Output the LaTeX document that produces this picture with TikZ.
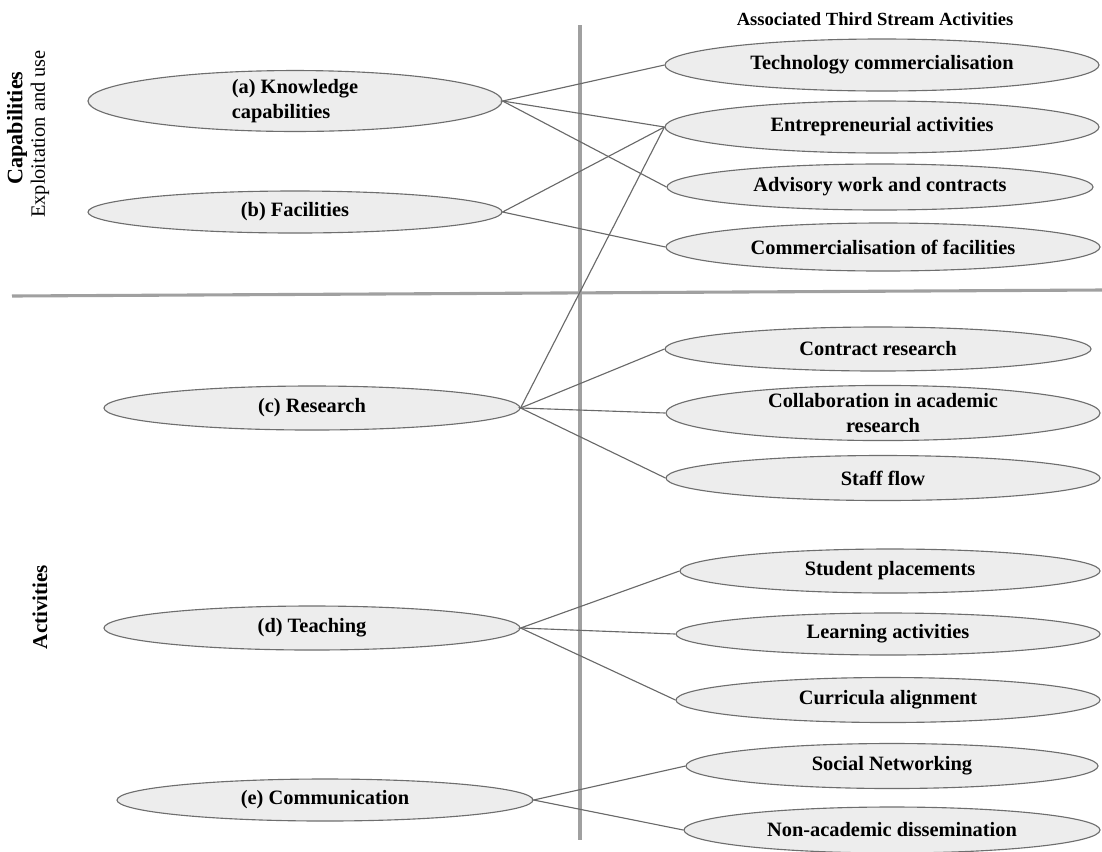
\documentclass[tikz,border=0pt]{standalone}
\usepackage{fontspec}
\setmainfont{Liberation Serif}
\usetikzlibrary{shapes.geometric}

\definecolor{ovalfill}{RGB}{237,237,237}
\definecolor{ovaldraw}{RGB}{110,110,110}
\definecolor{linkgray}{RGB}{105,105,105}
\definecolor{dividergray}{RGB}{160,160,160}

\tikzset{
  oval/.style 2 args={ellipse, draw=ovaldraw, fill=ovalfill, line width=0.8pt, inner sep=0pt,
    minimum width=#1*0.025cm, minimum height=#2*0.025cm,
    font=\fontsize{14.5}{17.5}\selectfont\bfseries},
  link/.style={draw=linkgray, line width=0.8pt},
  divider/.style={draw=dividergray, line width=2.2pt}
}

\begin{document}
\begin{tikzpicture}[x=0.025cm, y=-0.025cm]
  \useasboundingbox (0,0) rectangle (1102,851);
  \draw[divider] (12,296) -- (1102,290);
  \draw[divider] (580,25) -- (580,840);

  \node[font=\fontsize{13.2}{16}\selectfont\bfseries] (head) at (875,19) {Associated Third Stream Activities};
  \node[rotate=90, font=\fontsize{15.7}{18}\selectfont\bfseries] (capab) at (17,128) {Capabilities};
  \node[rotate=90, font=\fontsize{14.5}{17}\selectfont] (exploit) at (40,134) {Exploitation and use};
  \node[rotate=90, font=\fontsize{15}{18}\selectfont\bfseries] (activ) at (40,607) {Activities};

  \node[oval={414}{58}, align=left] (know) at (295,101) {(a) Knowledge\\capabilities};
  \node[oval={414}{42}] (facil) at (295,212) {(b) Facilities};
  \node[oval={416}{44}] (research) at (312,408) {(c) Research};
  \node[oval={416}{44}] (teach) at (312,628) {(d) Teaching};
  \node[oval={416}{42}] (comm) at (325,800) {(e) Communication};

  \node[oval={434}{52}] (techcom) at (882,65) {Technology commercialisation};
  \node[oval={434}{52}] (entre) at (882,127) {Entrepreneurial activities};
  \node[oval={426}{46}] (advis) at (880,187) {Advisory work and contracts};
  \node[oval={434}{48}] (comfac) at (883,247) {Commercialisation of facilities};
  \node[oval={426}{44}] (contract) at (878,349) {Contract research};
  \node[oval={434}{55}, align=center] (collab) at (883,413) {Collaboration in academic\\research};
  \node[oval={434}{45}] (staff) at (883,478) {Staff flow};
  \node[oval={420}{44}] (student) at (890,571) {Student placements};
  \node[oval={424}{42}] (learn) at (888,634) {Learning activities};
  \node[oval={424}{45}] (curric) at (888,700) {Curricula alignment};
  \node[oval={412}{45}] (social) at (892,766) {Social Networking};
  \node[oval={416}{46}] (nonacad) at (892,830) {Non-academic dissemination};

  \draw[link] (techcom.west) -- (know.east) -- (entre.west);
  \draw[link] (know.east) -- (advis.west);
  \draw[link] (entre.west) -- (facil.east) -- (comfac.west);
  \draw[link] (entre.west) -- (research.east) -- (contract.west);
  \draw[link] (collab.west) -- (research.east) -- (staff.west);
  \draw[link] (student.west) -- (teach.east) -- (learn.west);
  \draw[link] (teach.east) -- (curric.west);
  \draw[link] (social.west) -- (comm.east) -- (nonacad.west);
\end{tikzpicture}
\end{document}
